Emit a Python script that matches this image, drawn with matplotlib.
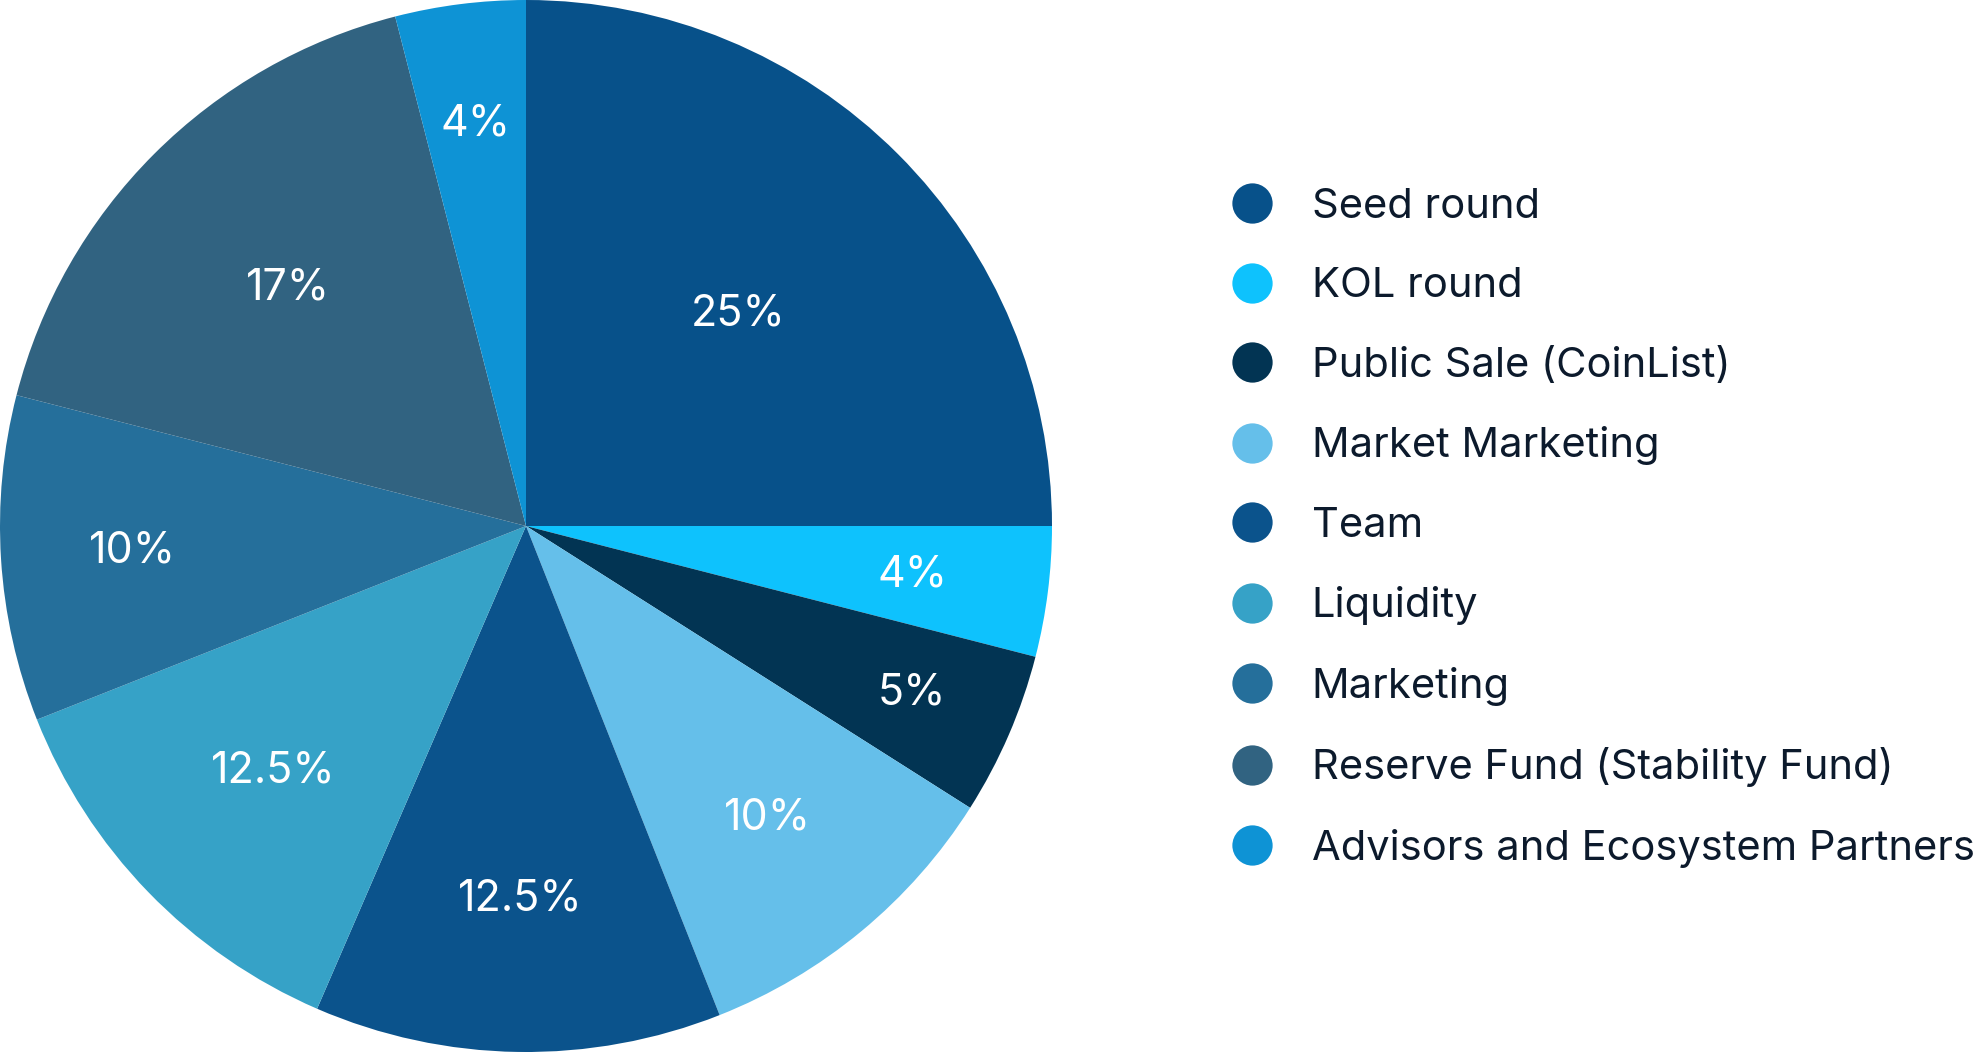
import numpy as np
import matplotlib.pyplot as plt
from matplotlib.lines import Line2D

plt.rcParams['font.family'] = ['Inter', 'DejaVu Sans']

categories = ['Seed round', 'KOL round', 'Public Sale (CoinList)', 'Market Marketing',
              'Team', 'Liquidity', 'Marketing', 'Reserve Fund (Stability Fund)',
              'Advisors and Ecosystem Partners']
shares = [25, 4, 5, 10, 12.5, 12.5, 10, 17, 4]
colors = ['#07518a', '#0ec2fd', '#023453', '#65bfea', '#0b538c',
          '#36a2c7', '#256f9b', '#316381', '#0e93d5']
# how far out each percent label sits (fraction of radius)
label_r = [0.57, 0.74, 0.80, 0.72, 0.71, 0.67, 0.75, 0.64, 0.77]

fig = plt.figure(figsize=(19.88, 10.52), dpi=100)
ax = fig.add_axes([0, 0, 1052 / 1988, 1])

wedges, _ = ax.pie(shares, colors=colors, startangle=90, counterclock=False,
                   radius=1, wedgeprops=dict(linewidth=0))
ax.set_xlim(-1, 1)
ax.set_ylim(-1, 1)

for w, v, r in zip(wedges, shares, label_r):
    mid = np.deg2rad((w.theta1 + w.theta2) / 2)
    ax.text(r * np.cos(mid), r * np.sin(mid), f'{v:g}%', color='white',
            fontsize=31, ha='center', va='center')

handles = [Line2D([], [], marker='o', linestyle='none', markersize=29,
                  markerfacecolor=c, markeredgewidth=0) for c in colors]
fig.legend(handles, categories, loc='upper left', bbox_to_anchor=(1228 / 1988, 1 - 188 / 1052),
           frameon=False, fontsize=30, labelcolor='#0c1a2c', handletextpad=0.86,
           labelspacing=0.995, borderpad=0, borderaxespad=0, handlelength=1.15)

fig.savefig('out.png', dpi=100)
